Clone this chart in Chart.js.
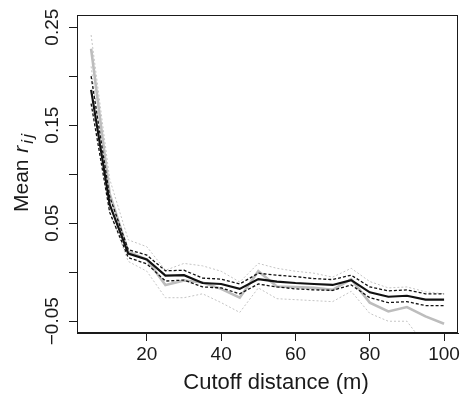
<!DOCTYPE html>
<html>
<head>
<meta charset="utf-8">
<script src="https://cdn.jsdelivr.net/npm/chart.js@4.4.0/dist/chart.umd.min.js"></script>
<style>
  html, body { margin: 0; padding: 0; background: #fff; }
</style>
</head>
<body>
<canvas id="Graph" width="462" height="395"></canvas>
<script>
// Cutoff distances (m)
const distances = [5, 10, 15, 20, 25, 30, 35, 40, 45, 50, 55, 60, 65, 70, 75, 80, 85, 90, 95, 100];

// black series: mean and its dashed interval
const blackMean = [0.186, 0.069, 0.019, 0.013, -0.0035, -0.003, -0.011, -0.012, -0.017, -0.007,
                   -0.0095, -0.011, -0.012, -0.013, -0.008, -0.0205, -0.025, -0.024, -0.028, -0.028];
const blackUpper = [0.200, 0.077, 0.023, 0.0175, 0.0015, 0.002, -0.006, -0.007, -0.012, -0.001,
                    -0.003, -0.0045, -0.0065, -0.0075, -0.003, -0.015, -0.019, -0.018, -0.022, -0.022];
const blackLower = [0.172, 0.061, 0.015, 0.0085, -0.009, -0.008, -0.015, -0.016, -0.022, -0.012,
                    -0.015, -0.017, -0.018, -0.0185, -0.013, -0.026, -0.031, -0.030, -0.034, -0.034];

// grey series: mean and its dotted interval
const greyMean = [0.228, 0.080, 0.021, 0.013, -0.013, -0.0085, -0.0105, -0.017, -0.026, 0.001,
                  -0.0145, -0.015, -0.016, -0.018, -0.007, -0.031, -0.040, -0.0355, -0.045, -0.0525];
const greyUpper = [0.242, 0.095, 0.033, 0.026, 0.002, 0.009, 0.0065, 0.001, -0.010, 0.009,
                   0.004, 0.001, -0.001, -0.005, 0.004, -0.0095, -0.016, -0.015, -0.020, -0.022];
const greyLower = [0.210, 0.062, 0.011, 0.001, -0.026, -0.026, -0.022, -0.031, -0.041, -0.016,
                   -0.027, -0.028, -0.029, -0.030, -0.0195, -0.042, -0.050, -0.050, -0.075, -0.085];

// axis ticks
const xTicks = [20, 40, 60, 80, 100];
const yTicks = [-0.05, 0, 0.05, 0.10, 0.15, 0.20, 0.25];
const yTickLabels = ['\u22120.05', '', '0.05', '', '0.15', '', '0.25'];

const FONT = "'Liberation Sans', Arial, Helvetica, sans-serif";
const INK = '#1a1a1a';

function toPoints(values) {
    return distances.map((d, i) => ({ x: d, y: values[i] }));
}

// box around the plot region plus the two axis titles
const framePlugin = {
    id: 'frame',
    afterDraw(chart) {
        const { ctx, chartArea } = chart;
        ctx.save();
        ctx.strokeStyle = INK;
        ctx.lineWidth = 1;
        const l = Math.round(chartArea.left) + 0.5;
        const t = Math.round(chartArea.top) + 0.5;
        const r = Math.round(chartArea.right) - 0.5;
        const b = Math.round(chartArea.bottom) - 0.5;
        ctx.strokeRect(l, t, r - l, b - t);

        ctx.fillStyle = INK;
        // x title
        ctx.font = '22px ' + FONT;
        ctx.textAlign = 'center';
        ctx.textBaseline = 'alphabetic';
        ctx.fillText('Cutoff distance (m)', 276, 389);

        // y title: Mean r_ij
        ctx.translate(27.5, 212);
        ctx.rotate(-Math.PI / 2);
        ctx.textAlign = 'left';
        ctx.font = '21px ' + FONT;
        const w1 = ctx.measureText('Mean ').width;
        ctx.fillText('Mean ', 0, 0);
        ctx.font = 'italic 21px ' + FONT;
        const w2 = ctx.measureText('r').width;
        ctx.fillText('r', w1 + 1, 0);
        ctx.font = 'italic 17px ' + FONT;
        const wi = ctx.measureText('i').width;
        ctx.fillText('i', w1 + w2 + 3, 5);
        ctx.fillText('j', w1 + w2 + 5 + wi, 5);
        ctx.restore();
    }
};

const ctx = document.getElementById('Graph').getContext('2d');
const chartInstance = new Chart(ctx, {
    type: 'line',
    data: {
        datasets: [
            {
                label: 'black mean',
                data: toPoints(blackMean),
                borderColor: '#111',
                borderWidth: 2.2,
                order: 1
            },
            {
                label: 'black upper',
                data: toPoints(blackUpper),
                borderColor: '#111',
                borderWidth: 1.3,
                borderDash: [3, 2],
                order: 2
            },
            {
                label: 'black lower',
                data: toPoints(blackLower),
                borderColor: '#111',
                borderWidth: 1.3,
                borderDash: [3, 2],
                order: 2
            },
            {
                label: 'grey mean',
                data: toPoints(greyMean),
                borderColor: '#bdbdbd',
                borderWidth: 2.6,
                order: 3
            },
            {
                label: 'grey upper',
                data: toPoints(greyUpper),
                borderColor: '#c4c4c4',
                borderWidth: 1,
                borderDash: [2, 2],
                order: 4
            },
            {
                label: 'grey lower',
                data: toPoints(greyLower),
                borderColor: '#c4c4c4',
                borderWidth: 1,
                borderDash: [2, 2],
                order: 4
            }
        ]
    },
    options: {
        responsive: false,
        animation: false,
        layout: { padding: { top: 15, right: 2, left: 0, bottom: 0 } },
        plugins: {
            legend: { display: false },
            tooltip: { enabled: false }
        },
        elements: {
            point: { radius: 0 },
            line: { tension: 0, fill: false }
        },
        scales: {
            x: {
                type: 'linear',
                min: 1.2,
                max: 103.8,
                afterBuildTicks: axis => { axis.ticks = xTicks.map(v => ({ value: v })); },
                afterFit: axis => { axis.height = 62; },
                grid: { drawOnChartArea: false, drawTicks: true, tickLength: 8, tickColor: INK, lineWidth: 1 },
                border: { display: true, color: INK, width: 1 },
                ticks: {
                    color: INK,
                    font: { family: FONT, size: 19 },
                    padding: 2,
                    minRotation: 0,
                    maxRotation: 0,
                    callback: v => String(v)
                }
            },
            y: {
                type: 'linear',
                min: -0.062,
                max: 0.2624,
                afterBuildTicks: axis => { axis.ticks = yTicks.map(v => ({ value: v })); },
                afterFit: axis => { axis.width = 77; },
                grid: { drawOnChartArea: false, drawTicks: true, tickLength: 8, tickColor: INK, lineWidth: 1 },
                border: { display: true, color: INK, width: 1 },
                ticks: {
                    color: INK,
                    font: { family: FONT, size: 19 },
                    padding: -8,
                    crossAlign: 'center',
                    minRotation: 90,
                    maxRotation: 90,
                    callback: (v, i) => yTickLabels[i]
                }
            }
        }
    },
    plugins: [framePlugin]
});
</script>
</body>
</html>
